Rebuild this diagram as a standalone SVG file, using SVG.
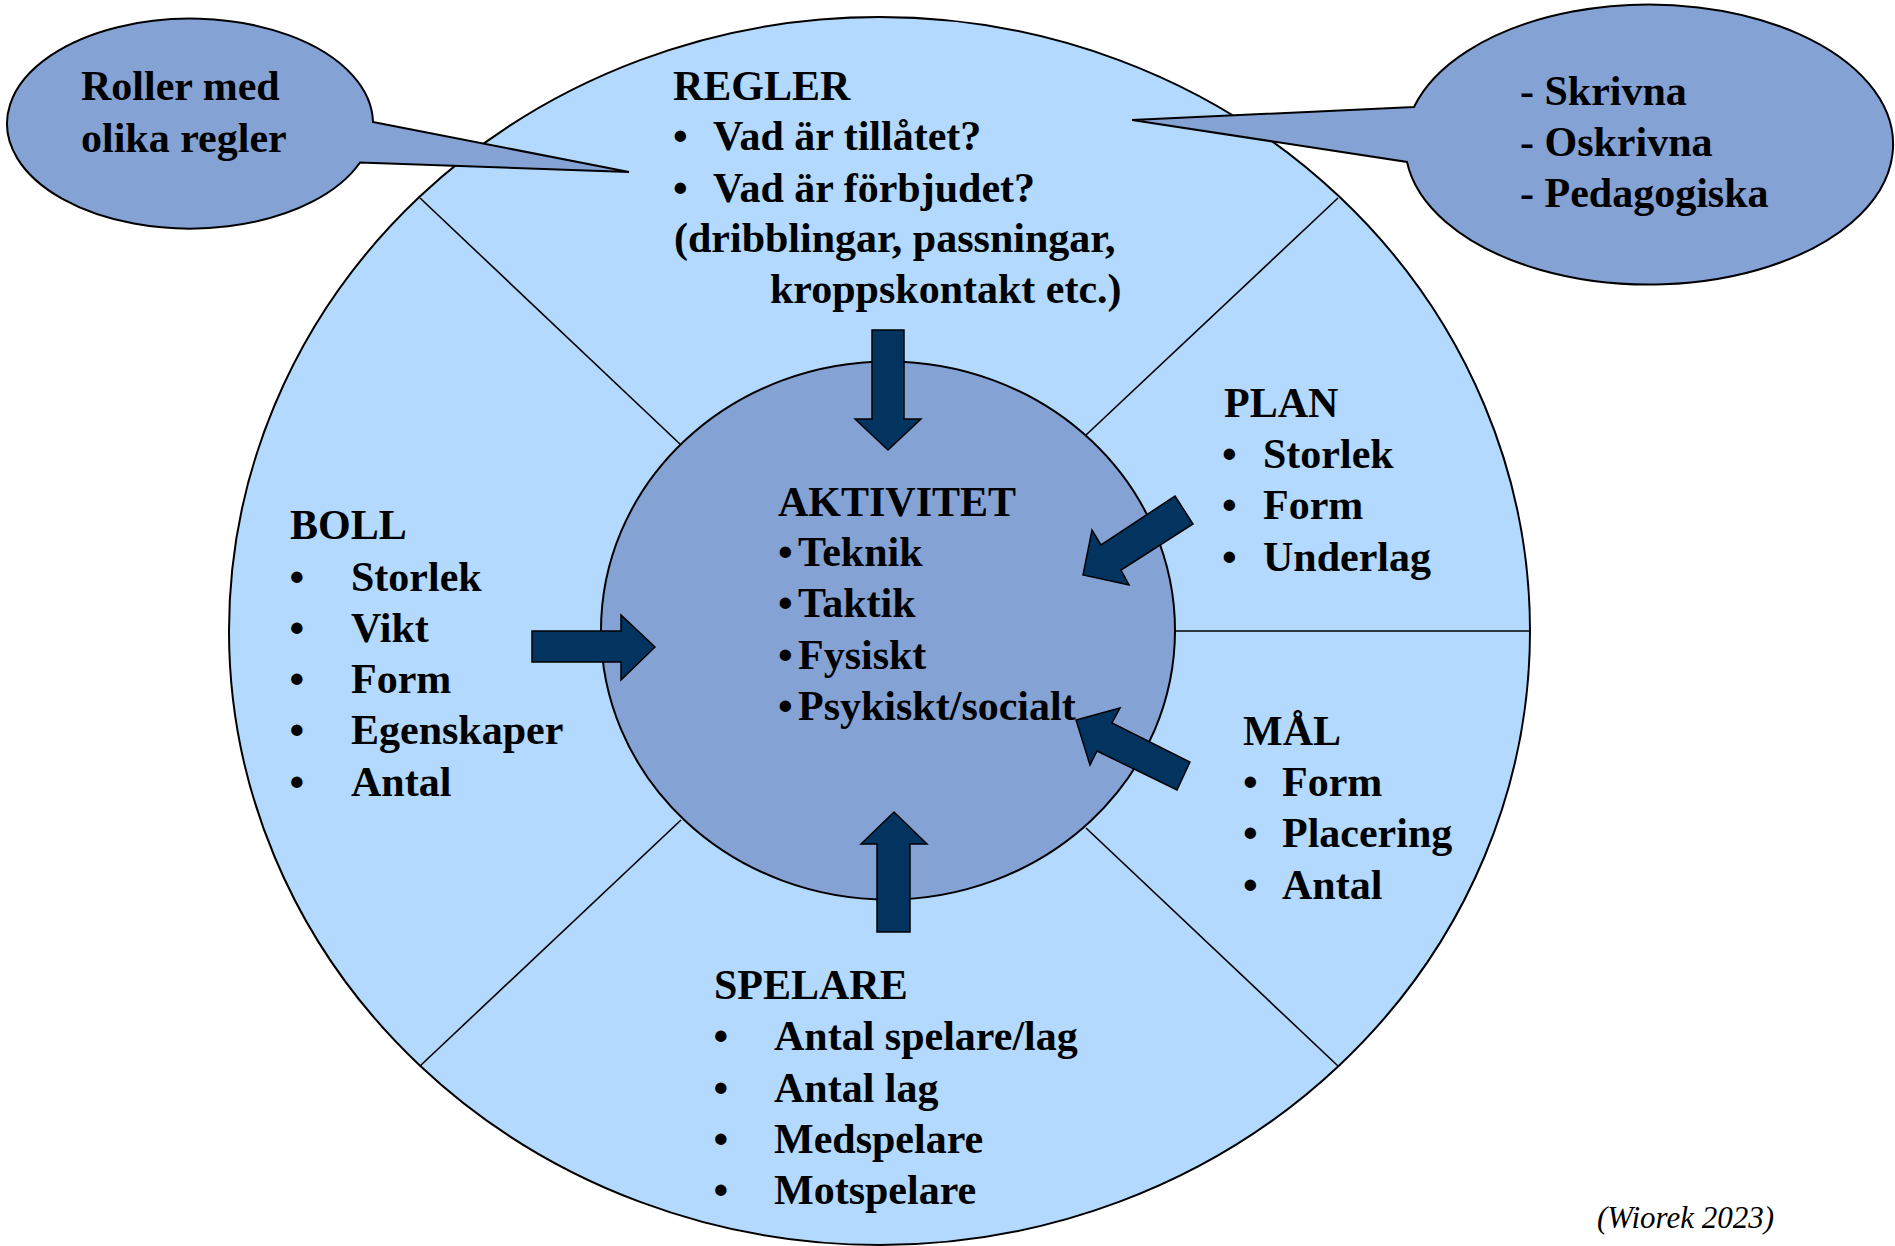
<svg xmlns="http://www.w3.org/2000/svg" width="1895" height="1246" viewBox="0 0 1895 1246">
  <style>
    .t { font-family: "Liberation Serif", "Times New Roman", serif; font-weight: bold; font-size: 42px; fill: #000; }
    .credit { font-family: "Liberation Serif", "Times New Roman", serif; font-style: italic; font-size: 31px; fill: #000; }
    .ring { fill: #B3D9FE; stroke: #000; stroke-width: 2; }
    .core { fill: #84A2D4; stroke: #000; stroke-width: 2; }
    .div { stroke: #000; stroke-width: 1.6; fill: none; }
    .bubble { fill: #84A2D4; stroke: #000; stroke-width: 2; stroke-linejoin: miter; }
    .arrow { fill: #03335F; stroke: #000; stroke-width: 1.5; stroke-linejoin: miter; }
  </style>
  <rect width="1895" height="1246" fill="#FFFFFF"/>

  <g id="outer-ring">
    <ellipse class="ring" cx="879.5" cy="631" rx="650.5" ry="614"/>
    <line class="div" x1="420" y1="198" x2="681" y2="445"/>
    <line class="div" x1="1338" y1="198" x2="1086" y2="435"/>
    <line class="div" x1="420" y1="1066" x2="681" y2="820"/>
    <line class="div" x1="1338" y1="1066" x2="1086" y2="828"/>
    <line class="div" x1="1175" y1="631" x2="1530" y2="631"/>
  </g>

  <g id="aktivitet">
    <ellipse class="core" cx="888" cy="630.5" rx="287" ry="269"/>
    <text class="t" x="778" y="516">AKTIVITET</text>
    <text class="t"><tspan x="778" y="566">•</tspan><tspan x="798" y="566">Teknik</tspan></text>
    <text class="t"><tspan x="778" y="617">•</tspan><tspan x="798" y="617">Taktik</tspan></text>
    <text class="t"><tspan x="778" y="669">•</tspan><tspan x="798" y="669">Fysiskt</tspan></text>
    <text class="t"><tspan x="778" y="720">•</tspan><tspan x="798" y="720">Psykiskt/socialt</tspan></text>
  </g>

  <g id="regler">
    <text class="t" x="673" y="100">REGLER</text>
    <text class="t"><tspan x="673" y="150">•</tspan><tspan x="713" y="150">Vad är tillåtet?</tspan></text>
    <text class="t"><tspan x="673" y="201.5">•</tspan><tspan x="713" y="201.5">Vad är förbjudet?</tspan></text>
    <text class="t" x="674" y="252">(dribblingar, passningar,</text>
    <text class="t" x="770" y="303">kroppskontakt etc.)</text>
  </g>

  <g id="boll">
    <text class="t" x="290" y="539">BOLL</text>
    <text class="t"><tspan x="289.5" y="591">•</tspan><tspan x="351" y="591">Storlek</tspan></text>
    <text class="t"><tspan x="289.5" y="642">•</tspan><tspan x="351" y="642">Vikt</tspan></text>
    <text class="t"><tspan x="289.5" y="693">•</tspan><tspan x="351" y="693">Form</tspan></text>
    <text class="t"><tspan x="289.5" y="744">•</tspan><tspan x="351" y="744">Egenskaper</tspan></text>
    <text class="t"><tspan x="289.5" y="796">•</tspan><tspan x="351" y="796">Antal</tspan></text>
  </g>

  <g id="plan">
    <text class="t" x="1224" y="417">PLAN</text>
    <text class="t"><tspan x="1222" y="468">•</tspan><tspan x="1263" y="468">Storlek</tspan></text>
    <text class="t"><tspan x="1222" y="519">•</tspan><tspan x="1263" y="519">Form</tspan></text>
    <text class="t"><tspan x="1222" y="570.5">•</tspan><tspan x="1263" y="570.5">Underlag</tspan></text>
  </g>

  <g id="mal">
    <text class="t" x="1243" y="745">MÅL</text>
    <text class="t"><tspan x="1243" y="796">•</tspan><tspan x="1282" y="796">Form</tspan></text>
    <text class="t"><tspan x="1243" y="847">•</tspan><tspan x="1282" y="847">Placering</tspan></text>
    <text class="t"><tspan x="1243" y="898.5">•</tspan><tspan x="1282" y="898.5">Antal</tspan></text>
  </g>

  <g id="spelare">
    <text class="t" x="714" y="999">SPELARE</text>
    <text class="t"><tspan x="713.5" y="1050">•</tspan><tspan x="774" y="1050">Antal spelare/lag</tspan></text>
    <text class="t"><tspan x="713.5" y="1101.5">•</tspan><tspan x="774" y="1101.5">Antal lag</tspan></text>
    <text class="t"><tspan x="713.5" y="1152.5">•</tspan><tspan x="774" y="1152.5">Medspelare</tspan></text>
    <text class="t"><tspan x="713.5" y="1203.5">•</tspan><tspan x="774" y="1203.5">Motspelare</tspan></text>
  </g>

  <g id="connectors">
    <polygon id="arrow-regler" class="arrow" points="872,330 904,330 904,419 921,419 888,450 855,419 872,419"/>
    <polygon id="arrow-spelare" class="arrow" points="877,932 910,932 910,844 927,844 894,812 861,844 877,844"/>
    <polygon id="arrow-boll" class="arrow" points="532,631 621,631 621,615 655,647 621,680 621,662 532,662"/>
    <polygon id="arrow-plan" class="arrow" points="1175,496 1193,524 1121,570 1129,585 1083,575 1092,530 1101,545"/>
    <polygon id="arrow-mal" class="arrow" points="1190,762 1177,790 1097,751 1090,765 1076,720 1120,708 1112,723"/>
  </g>

  <g id="callout-left">
    <path class="bubble" d="M 373,122 L 629,172 L 360,162.5 A 183 105 0 1 1 373,122 Z"/>
    <text class="t" x="81" y="100">Roller med</text>
    <text class="t" x="81" y="152">olika regler</text>
  </g>

  <g id="callout-right">
    <path class="bubble" d="M 1414,107 L 1132,120 L 1407,162 A 244 140 0 1 0 1414,107 Z"/>
    <text class="t" x="1520" y="105">- Skrivna</text>
    <text class="t" x="1520" y="156">- Oskrivna</text>
    <text class="t" x="1520" y="207">- Pedagogiska</text>
  </g>

  <g id="credit">
    <text class="credit" x="1597" y="1228">(Wiorek 2023)</text>
  </g>
</svg>
